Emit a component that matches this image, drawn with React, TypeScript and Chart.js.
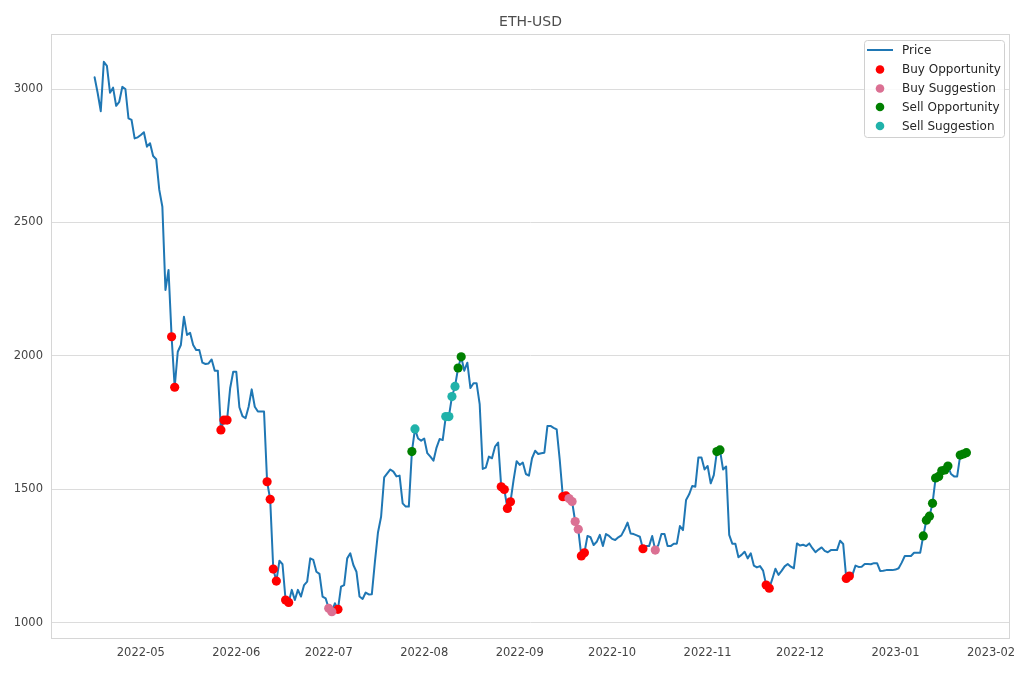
import React, { useEffect, useRef } from "react";
import { Chart, registerables } from "chart.js";

Chart.register(...registerables);

const chartTitle = "ETH-USD";

// Day offsets are counted from 2022-05-01 (day 0). The series starts on 2022-04-16.
const firstDay = -15;

// Daily closing prices, 2022-04-16 .. 2023-01-24
const prices = [
  3044, 2985, 2917, 3102, 3087, 2986, 3005, 2937, 2952, 3008, // -15..-6
  3000, 2890, 2884, 2815, 2819, // -5..-1
  2828, 2838, 2784, 2797, 2749, 2737, 2622, 2559, 2247, 2322, // 0..9
  2072, 1883, 2016, 2041, 2147, 2079, 2087, 2041, 2022, 2022, // 10..19
  1975, 1970, 1972, 1987, 1945, 1945, 1723, 1760, 1760, 1879, // 20..29
  1941, 1941, 1808, 1775, 1767, 1810, 1875, 1810, 1792, 1792, // 30..39
  1792, 1529, 1463, 1202, 1157, 1233, 1220, 1086, 1077, 1124, // 40..49
  1086, 1124, 1099, 1142, 1155, 1242, 1236, 1192, 1184, 1099, // 50..59
  1092, 1055, 1042, 1074, 1051, 1136, 1142, 1242, 1261, 1217, // 60..69
  1192, 1099, 1090, 1114, 1107, 1108, 1230, 1340, 1398, 1545, // 70..79
  1560, 1575, 1567, 1549, 1552, 1448, 1436, 1436, 1642, 1727, // 80..89
  1691, 1683, 1691, 1636, 1623, 1608, 1657, 1689, 1685, 1773, // 90..99
  1773, 1848, 1886, 1955, 1997, 1945, 1975, 1880, 1898, 1898, // 100..109
  1820, 1577, 1582, 1623, 1617, 1661, 1676, 1510, 1500, 1429, // 110..119
  1454, 1535, 1606, 1592, 1601, 1558, 1552, 1617, 1645, 1633, // 120..129
  1636, 1638, 1738, 1738, 1731, 1725, 1610, 1473, 1476, 1466, // 130..139
  1455, 1380, 1351, 1251, 1263, 1326, 1321, 1292, 1304, 1330, // 140..149
  1288, 1333, 1326, 1315, 1311, 1321, 1328, 1350, 1376, 1335, // 150..159
  1333, 1328, 1323, 1278, 1288, 1288, 1326, 1273, 1292, 1333, // 160..169
  1333, 1288, 1288, 1297, 1297, 1363, 1348, 1461, 1482, 1513, // 170..179
  1510, 1620, 1620, 1575, 1588, 1523, 1554, 1642, 1648, 1575, // 180..189
  1586, 1330, 1297, 1297, 1246, 1255, 1267, 1242, 1261, 1215, // 190..199
  1208, 1213, 1196, 1142, 1130, 1165, 1203, 1180, 1195, 1212, // 200..209
  1221, 1211, 1205, 1298, 1290, 1293, 1288, 1298, 1280, 1265, // 210..219
  1275, 1283, 1270, 1265, 1273, 1273, 1273, 1308, 1296, 1167, // 220..229
  1176, 1180, 1215, 1210, 1211, 1221, 1221, 1220, 1224, 1224, // 230..239
  1195, 1196, 1198, 1198, 1198, 1200, 1205, 1226, 1251, 1251, // 240..249
  1251, 1263, 1263, 1263, 1326, 1385, 1400, 1448, 1543, 1549, // 250..259
  1570, 1573, 1588, 1558, 1549, 1549, 1629, 1633, 1638,       // 260..268
];

const buyOpportunityDays = [10, 11, 26, 27, 28, 41, 42, 43, 44, 47, 48, 64, 117, 118, 119, 120, 137, 138, 143, 144, 163, 203, 204, 229, 230];
const buySuggestionDays = [61, 62, 139, 140, 141, 142, 167];
const sellOpportunityDays = [88, 103, 104, 187, 188, 254, 255, 256, 257, 258, 259, 260, 261, 262, 266, 267, 268];
const sellSuggestionDays = [89, 99, 100, 101, 102];

const monthTickDays = [0, 31, 61, 92, 123, 153, 184, 214, 245, 276];
const monthTickLabels = ["2022-05", "2022-06", "2022-07", "2022-08", "2022-09", "2022-10", "2022-11", "2022-12", "2023-01", "2023-02"];
const yTickValues = [1000, 1500, 2000, 2500, 3000];

const seriesNames = ["Price", "Buy Opportunity", "Buy Suggestion", "Sell Opportunity", "Sell Suggestion"];
const seriesColors = ["#1f77b4", "#ff0000", "#db7093", "#008000", "#20b2aa"];

const FONT = "'DejaVu Sans', sans-serif";

function pointsFor(days: number[]) {
  return days.map((d) => ({ x: d, y: prices[d - firstDay] }));
}

const framePlugin = {
  id: "frameAndLegend",
  afterDatasetsDraw(chart: any) {
    const { ctx, chartArea } = chart;
    ctx.save();
    ctx.strokeStyle = "#d6d6d6";
    ctx.lineWidth = 1;
    ctx.strokeRect(chartArea.left + 0.5, chartArea.top + 0.5, chartArea.right - chartArea.left - 1, chartArea.bottom - chartArea.top - 1);
    ctx.restore();
  },
  afterDraw(chart: any) {
    const { ctx, chartArea } = chart;
    ctx.save();
    // title
    ctx.fillStyle = "#4d4d4d";
    ctx.font = `14px ${FONT}`;
    ctx.textAlign = "center";
    ctx.textBaseline = "middle";
    ctx.fillText(chartTitle, (chartArea.left + chartArea.right) / 2, 22);

    // legend
    const bx = chartArea.right - 146;
    const by = chartArea.top + 6;
    const bw = 140;
    const bh = 97;
    ctx.beginPath();
    ctx.roundRect(bx + 0.5, by + 0.5, bw, bh, 3);
    ctx.fillStyle = "rgba(255,255,255,0.85)";
    ctx.fill();
    ctx.strokeStyle = "#d0d0d0";
    ctx.lineWidth = 1;
    ctx.stroke();

    const rowY = [by + 10, by + 29.5, by + 48.5, by + 67, by + 86];
    ctx.font = `12px ${FONT}`;
    ctx.textAlign = "left";
    ctx.textBaseline = "middle";
    seriesNames.forEach((name, i) => {
      const y = rowY[i];
      if (i === 0) {
        ctx.beginPath();
        ctx.moveTo(bx + 3, y);
        ctx.lineTo(bx + 29, y);
        ctx.strokeStyle = seriesColors[0];
        ctx.lineWidth = 2;
        ctx.stroke();
      } else {
        ctx.beginPath();
        ctx.arc(bx + 16, y, 4.3, 0, Math.PI * 2);
        ctx.fillStyle = seriesColors[i];
        ctx.fill();
      }
      ctx.fillStyle = "#262626";
      ctx.fillText(name, bx + 38, y + 0.5);
    });
    ctx.restore();
  },
};

export default function App() {
  const canvasRef = useRef<HTMLCanvasElement | null>(null);

  useEffect(() => {
    document.body.style.margin = "0";
    document.body.style.overflow = "hidden";
    const canvas = canvasRef.current;
    if (!canvas) return;

    const pricePoints = prices.map((p, i) => ({ x: firstDay + i, y: p }));
    const markerSets = [buyOpportunityDays, buySuggestionDays, sellOpportunityDays, sellSuggestionDays];

    const datasets: any[] = [
      {
        label: seriesNames[0],
        data: pricePoints,
        showLine: true,
        borderColor: seriesColors[0],
        backgroundColor: seriesColors[0],
        borderWidth: 2,
        borderJoinStyle: "round",
        borderCapStyle: "round",
        pointRadius: 0,
        pointHoverRadius: 0,
        tension: 0,
        order: 10,
      },
      ...markerSets.map((days, k) => ({
        label: seriesNames[k + 1],
        data: pointsFor(days),
        showLine: false,
        backgroundColor: seriesColors[k + 1],
        borderColor: seriesColors[k + 1],
        borderWidth: 0,
        pointRadius: 4.6,
        pointHoverRadius: 4.6,
        order: 4 - k,
      })),
    ];

    const chart = new Chart(canvas, {
      type: "scatter",
      data: { datasets },
      options: {
        animation: false,
        responsive: false,
        devicePixelRatio: 1,
        layout: { padding: { left: 0, right: 10, top: 34, bottom: 0 } },
        plugins: {
          legend: { display: false },
          title: { display: false },
          tooltip: { enabled: false },
        },
        scales: {
          x: {
            type: "linear",
            min: -29.15,
            max: 282.15,
            grid: { display: false, drawTicks: false },
            border: { display: false },
            afterBuildTicks: (scale: any) => {
              scale.ticks = monthTickDays.map((v) => ({ value: v }));
            },
            afterFit: (scale: any) => {
              scale.height = 41;
              scale.paddingLeft = 0;
              scale.paddingRight = 0;
            },
            ticks: {
              autoSkip: false,
              maxRotation: 0,
              padding: 7,
              color: "#444444",
              font: { family: FONT, size: 11.5 },
              callback: (value: any) => {
                const idx = monthTickDays.indexOf(Number(value));
                return idx >= 0 ? monthTickLabels[idx] : "";
              },
            },
          },
          y: {
            type: "linear",
            min: 940,
            max: 3206,
            grid: { display: true, color: "#dcdcdc", lineWidth: 1, drawTicks: false },
            border: { display: false },
            afterBuildTicks: (scale: any) => {
              scale.ticks = yTickValues.map((v) => ({ value: v }));
            },
            afterFit: (scale: any) => {
              scale.width = 51;
              scale.paddingTop = 0;
              scale.paddingBottom = 0;
            },
            ticks: {
              padding: 8,
              color: "#444444",
              font: { family: FONT, size: 11.5 },
              callback: (value: any) => String(value),
            },
          },
        },
      },
      plugins: [framePlugin],
    });

    return () => chart.destroy();
  }, []);

  return (
    <div style={{ width: 1020, height: 680 }}>
      <canvas ref={canvasRef} width={1020} height={680} />
    </div>
  );
}
